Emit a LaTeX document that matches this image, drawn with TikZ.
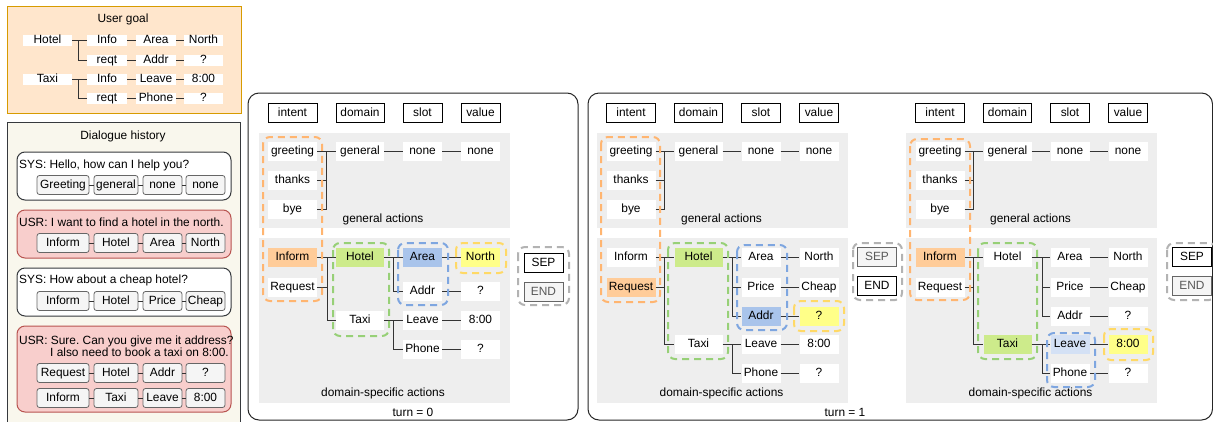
\documentclass[tikz,border=0pt]{standalone}
\usepackage{fontspec}
\setmainfont{Liberation Sans}
\frenchspacing
\definecolor{goalfill}{HTML}{FFE6CC}
\definecolor{goaldraw}{HTML}{D79B00}
\definecolor{histfill}{HTML}{F9F7ED}
\definecolor{histdraw}{HTML}{36393D}
\definecolor{usrfill}{HTML}{F8CECC}
\definecolor{usrdraw}{HTML}{B85450}
\definecolor{tagfill}{HTML}{F5F5F5}
\definecolor{tagdraw}{HTML}{666666}
\definecolor{regionfill}{HTML}{EEEEEE}
\definecolor{orangeF}{HTML}{FFCC99}
\definecolor{greenF}{HTML}{CDEB8B}
\definecolor{blueF}{HTML}{A9C4EB}
\definecolor{lblueF}{HTML}{D4E1F5}
\definecolor{yellowF}{HTML}{FFFF88}
\definecolor{orangeD}{HTML}{FFB570}
\definecolor{greenD}{HTML}{97D077}
\definecolor{blueD}{HTML}{7EA6E0}
\definecolor{yellowD}{HTML}{FFD966}
\definecolor{greyD}{HTML}{B3B3B3}
\tikzset{
  txt/.style={font=\fontsize{11.9}{13.5}\selectfont, text height=8.5pt, text depth=1pt, inner sep=0pt},
  lbl/.style={txt},
  cell/.style={txt, fill=white, minimum height=19},
  ucell/.style={txt, fill=white, minimum height=11},
  hdr/.style={txt, fill=white, draw=black, line width=0.9, minimum height=19},
  tag/.style={txt, fill=tagfill, draw=tagdraw, line width=0.8, rounded corners=2.5, minimum height=19},
  wI/.style={minimum width=49}, wD/.style={minimum width=48},
  wS/.style={minimum width=39}, wV/.style={minimum width=39},
  conn/.style={draw=black!80, line width=0.9},
  region/.style={fill=regionfill},
  dbox/.style={line width=2, rounded corners=7, dash pattern=on 7pt off 5pt},
  panel/.style={draw=black!85, line width=1, rounded corners=11},
  sepon/.style={txt, fill=white, draw=black, line width=0.9, minimum height=19, minimum width=39},
  sepoff/.style={txt, fill=tagfill, draw=tagdraw, text=black!65, line width=0.9, minimum height=19, minimum width=39},
  sysbox/.style={fill=white, draw=histdraw, line width=1, rounded corners=8},
  usrbox/.style={fill=usrfill, draw=usrdraw, line width=1, rounded corners=8},
}
\newcommand\panelcommon{%
  \fill[region] (258.5,133) rectangle (509.5,228);
  \fill[region] (258.5,238) rectangle (509.5,403);
  \node[hdr,wI] (hi) at (292.5,112.5) {intent};
  \node[hdr,wD] (hd) at (360,112.5) {domain};
  \node[hdr,wS] (hs) at (422.5,112.5) {slot};
  \node[hdr,wV] (hv) at (480.5,112.5) {value};
  \node[cell,wI] (greet) at (292.5,151) {greeting};
  \node[cell,wI] (thanks) at (292.5,180) {thanks};
  \node[cell,wI] (bye) at (292.5,209) {bye};
  \node[cell,wD] (gen) at (360,151) {general};
  \node[cell,wS] (gn1) at (422.5,151) {none};
  \node[cell,wV] (gn2) at (480.5,151) {none};
  \coordinate (gb) at (326,151);
  \draw[conn] (greet) -- (gen);
  \draw[conn] (thanks.east) -- (thanks.east -| gb);
  \draw[conn] (bye.east) -| (gb);
  \draw[conn] (gen) -- (gn1);
  \draw[conn] (gn1) -- (gn2);
  \node[lbl] (gal) at (383,219) {general actions};
  \node[lbl] (dsl) at (383,393) {domain-specific actions};
}
\begin{document}
\begin{tikzpicture}[x=1pt,y=-1pt]
\useasboundingbox (0,0) rectangle (1213,421);
\fill[white] (0,0) rectangle (1213,421);

% ---------------- User goal ----------------
\filldraw[fill=goalfill, draw=goaldraw, line width=1] (7,6) rectangle (241,113);
\node[lbl] (ugt) at (123,19) {User goal};
\node[ucell,minimum width=49] (gh) at (47.5,40) {Hotel};
\node[ucell,minimum width=40] (gi1) at (107,40) {Info};
\node[ucell,minimum width=40] (ga1) at (156,40) {Area};
\node[ucell,minimum width=39] (gv1) at (203.5,40) {North};
\node[ucell,minimum width=40] (gr1) at (107,60) {reqt};
\node[ucell,minimum width=40] (ga2) at (156,60) {Addr};
\node[ucell,minimum width=39] (gv2) at (203.5,60) {?};
\node[ucell,minimum width=49] (gt) at (47.5,79) {Taxi};
\node[ucell,minimum width=40] (gi2) at (107,79) {Info};
\node[ucell,minimum width=40] (ga3) at (156,79) {Leave};
\node[ucell,minimum width=39] (gv3) at (203.5,79) {8:00};
\node[ucell,minimum width=40] (gr2) at (107,98) {reqt};
\node[ucell,minimum width=40] (ga4) at (156,98) {Phone};
\node[ucell,minimum width=39] (gv4) at (203.5,98) {?};
\coordinate (ub1) at (78,40);
\coordinate (ub2) at (78,79);
\draw[conn] (gh) -- (gi1);
\draw[conn] (ub1) |- (gr1.west);
\draw[conn] (gi1) -- (ga1);
\draw[conn] (ga1) -- (gv1);
\draw[conn] (gr1) -- (ga2);
\draw[conn] (ga2) -- (gv2);
\draw[conn] (gt) -- (gi2);
\draw[conn] (ub2) |- (gr2.west);
\draw[conn] (gi2) -- (ga3);
\draw[conn] (ga3) -- (gv3);
\draw[conn] (gr2) -- (ga4);
\draw[conn] (ga4) -- (gv4);

% ---------------- Dialogue history ----------------
\filldraw[fill=histfill, draw=histdraw, line width=1] (7,122) rectangle (240,440);
\node[lbl] (dht) at (123,136) {Dialogue history};
\draw[sysbox] (17,152) rectangle (231,200);
\node[lbl,anchor=west] (s1) at (19,165) {SYS: Hello, how can I help you?};
\node[tag,minimum width=52] (s1a) at (63,185) {Greeting};
\node[tag,minimum width=44] (s1b) at (116,185) {general};
\node[tag,minimum width=39] (s1c) at (162.5,185) {none};
\node[tag,minimum width=39] (s1d) at (205.5,185) {none};
\draw[conn] (s1a) -- (s1b); \draw[conn] (s1b) -- (s1c); \draw[conn] (s1c) -- (s1d);

\draw[usrbox] (17,210) rectangle (231,258);
\node[lbl,anchor=west] (u1) at (19,223) {USR: I want to find a hotel in the north.};
\node[tag,minimum width=52] (u1a) at (63,243) {Inform};
\node[tag,minimum width=44] (u1b) at (116,243) {Hotel};
\node[tag,minimum width=39] (u1c) at (162.5,243) {Area};
\node[tag,minimum width=39] (u1d) at (205.5,243) {North};
\draw[conn] (u1a) -- (u1b); \draw[conn] (u1b) -- (u1c); \draw[conn] (u1c) -- (u1d);

\draw[sysbox] (17,268) rectangle (231,316);
\node[lbl,anchor=west] (s2) at (19,280) {SYS: How about a cheap hotel?};
\node[tag,minimum width=52] (s2a) at (63,301) {Inform};
\node[tag,minimum width=44] (s2b) at (116,301) {Hotel};
\node[tag,minimum width=39] (s2c) at (162.5,301) {Price};
\node[tag,minimum width=39] (s2d) at (205.5,301) {Cheap};
\draw[conn] (s2a) -- (s2b); \draw[conn] (s2b) -- (s2c); \draw[conn] (s2c) -- (s2d);

\draw[usrbox] (17,326) rectangle (231,412);
\node[lbl,anchor=west] (u2) at (19,341) {USR: Sure. Can you give me it address?};
\node[lbl,anchor=east] (u2b) at (229,353) {I also need to book a taxi on 8:00.};
\node[tag,minimum width=52] (u2a) at (63,373) {Request};
\node[tag,minimum width=44] (u2bb) at (116,373) {Hotel};
\node[tag,minimum width=39] (u2c) at (162.5,373) {Addr};
\node[tag,minimum width=39] (u2d) at (205.5,373) {?};
\draw[conn] (u2a) -- (u2bb); \draw[conn] (u2bb) -- (u2c); \draw[conn] (u2c) -- (u2d);
\node[tag,minimum width=52] (u2e) at (63,398) {Inform};
\node[tag,minimum width=44] (u2f) at (116,398) {Taxi};
\node[tag,minimum width=39] (u2g) at (162.5,398) {Leave};
\node[tag,minimum width=39] (u2h) at (205.5,398) {8:00};
\draw[conn] (u2e) -- (u2f); \draw[conn] (u2f) -- (u2g); \draw[conn] (u2g) -- (u2h);

% ---------------- turn = 0 ----------------
\draw[panel] (248,93) rectangle (578,420);
\node[lbl] (turn0) at (413,413) {turn = 0};
\begin{scope}[name prefix=T0-]
  \panelcommon
  \node[cell,wI,fill=orangeF] (inform) at (292.5,257) {Inform};
  \node[cell,wI] (request) at (292.5,287) {Request};
  \node[cell,wD,fill=greenF] (hotel) at (360,257) {Hotel};
  \node[cell,wD] (taxi) at (360,320) {Taxi};
  \node[cell,wS,fill=blueF] (area) at (422.5,257) {Area};
  \node[cell,wS] (addr) at (422.5,291) {Addr};
  \node[cell,wS] (leave) at (422.5,320) {Leave};
  \node[cell,wS] (phone) at (422.5,349) {Phone};
  \node[cell,wV,fill=yellowF] (north) at (480.5,257) {North};
  \node[cell,wV] (q1) at (480.5,291) {?};
  \node[cell,wV] (t800) at (480.5,320) {8:00};
  \node[cell,wV] (q2) at (480.5,349) {?};
  \coordinate (b1) at (327,257);
  \coordinate (b2) at (393,257);
  \draw[conn] (inform) -- (hotel);
  \draw[conn] (request.east) -- (request.east -| b1);
  \draw[conn] (b1) |- (taxi.west);
  \draw[conn] (hotel) -- (area);
  \draw[conn] (b2) |- (addr.west);
  \draw[conn] (taxi) -- (leave);
  \draw[conn] (taxi.east -| b2) |- (phone.west);
  \draw[conn] (area) -- (north);
  \draw[conn] (addr) -- (q1);
  \draw[conn] (leave) -- (t800);
  \draw[conn] (phone) -- (q2);
  \node[sepon] (sep) at (543.5,263) {SEP};
  \node[sepoff] (end) at (543.5,292) {END};
  \draw[dbox,orangeD] (263,137) rectangle (322,301);
  \draw[dbox,greenD] (333,243) rectangle (389,336);
  \draw[dbox,blueD] (398,243) rectangle (448,305);
  \draw[dbox,yellowD] (456,243) rectangle (506,273);
  \draw[dbox,greyD] (518,247) rectangle (569,305);
\end{scope}

% ---------------- turn = 1 ----------------
\draw[panel] (588,93) rectangle (1212.5,420);
\node[lbl] (turn1) at (845,413) {turn = 1};
\begin{scope}[xshift=338.5, name prefix=A-]
  \panelcommon
  \node[cell,wI] (inform) at (292.5,257) {Inform};
  \node[cell,wI,fill=orangeF] (request) at (292.5,287) {Request};
  \node[cell,wD,fill=greenF] (hotel) at (360,257) {Hotel};
  \node[cell,wD] (taxi) at (360,344) {Taxi};
  \node[cell,wS] (area) at (422.5,257) {Area};
  \node[cell,wS] (price) at (422.5,287) {Price};
  \node[cell,wS,fill=blueF] (addr) at (422.5,316) {Addr};
  \node[cell,wS] (leave) at (422.5,344) {Leave};
  \node[cell,wS] (phone) at (422.5,373) {Phone};
  \node[cell,wV] (north) at (480.5,257) {North};
  \node[cell,wV] (cheap) at (480.5,287) {Cheap};
  \node[cell,wV,fill=yellowF] (q1) at (480.5,316) {?};
  \node[cell,wV] (t800) at (480.5,344) {8:00};
  \node[cell,wV] (q2) at (480.5,373) {?};
  \coordinate (b1) at (326,257);
  \coordinate (b2) at (394,257);
  \draw[conn] (inform) -- (hotel);
  \draw[conn] (request.east) -- (request.east -| b1);
  \draw[conn] (b1) |- (taxi.west);
  \draw[conn] (hotel) -- (area);
  \draw[conn] (b2) |- (price.west);
  \draw[conn] (b2) |- (addr.west);
  \draw[conn] (taxi) -- (leave);
  \draw[conn] (taxi.east -| b2) |- (phone.west);
  \draw[conn] (area) -- (north);
  \draw[conn] (price) -- (cheap);
  \draw[conn] (addr) -- (q1);
  \draw[conn] (leave) -- (t800);
  \draw[conn] (phone) -- (q2);
  \node[sepoff] (sep) at (538.5,257) {SEP};
  \node[sepon] (end) at (538.5,286) {END};
  \draw[dbox,orangeD] (262.5,137) rectangle (321.5,302);
  \draw[dbox,greenD] (329.5,243) rectangle (389.5,359);
  \draw[dbox,blueD] (398.5,245) rectangle (448.5,330);
  \draw[dbox,yellowD] (455.5,301) rectangle (505.5,331);
  \draw[dbox,greyD] (514.5,243) rectangle (563.5,300);
\end{scope}
\begin{scope}[xshift=647.5, name prefix=B-]
  \panelcommon
  \node[cell,wI,fill=orangeF] (inform) at (292.5,257) {Inform};
  \node[cell,wI] (request) at (292.5,287) {Request};
  \node[cell,wD] (hotel) at (360,257) {Hotel};
  \node[cell,wD,fill=greenF] (taxi) at (360,344) {Taxi};
  \node[cell,wS] (area) at (422.5,257) {Area};
  \node[cell,wS] (price) at (422.5,287) {Price};
  \node[cell,wS] (addr) at (422.5,316) {Addr};
  \node[cell,wS,fill=lblueF] (leave) at (422.5,344) {Leave};
  \node[cell,wS] (phone) at (422.5,373) {Phone};
  \node[cell,wV] (north) at (480.5,257) {North};
  \node[cell,wV] (cheap) at (480.5,287) {Cheap};
  \node[cell,wV] (q1) at (480.5,316) {?};
  \node[cell,wV,fill=yellowF] (t800) at (480.5,344) {8:00};
  \node[cell,wV] (q2) at (480.5,373) {?};
  \coordinate (b1) at (326,257);
  \coordinate (b2) at (394.5,257);
  \draw[conn] (inform) -- (hotel);
  \draw[conn] (request.east) -- (request.east -| b1);
  \draw[conn] (b1) |- (taxi.west);
  \draw[conn] (hotel) -- (area);
  \draw[conn] (b2) |- (price.west);
  \draw[conn] (b2) |- (addr.west);
  \draw[conn] (taxi) -- (leave);
  \draw[conn] (taxi.east -| b2) |- (phone.west);
  \draw[conn] (area) -- (north);
  \draw[conn] (price) -- (cheap);
  \draw[conn] (addr) -- (q1);
  \draw[conn] (leave) -- (t800);
  \draw[conn] (phone) -- (q2);
  \node[sepon] (sep) at (544.5,257) {SEP};
  \node[sepoff] (end) at (544.5,286) {END};
  \draw[dbox,orangeD] (262.5,139) rectangle (322.5,300);
  \draw[dbox,greenD] (330.5,243) rectangle (389.5,359);
  \draw[dbox,blueD] (399.5,333) rectangle (447.5,387);
  \draw[dbox,yellowD] (456.5,329) rectangle (505.5,360);
  \draw[dbox,greyD] (519.5,243) rectangle (568.5,300);
\end{scope}
\end{tikzpicture}
\end{document}
